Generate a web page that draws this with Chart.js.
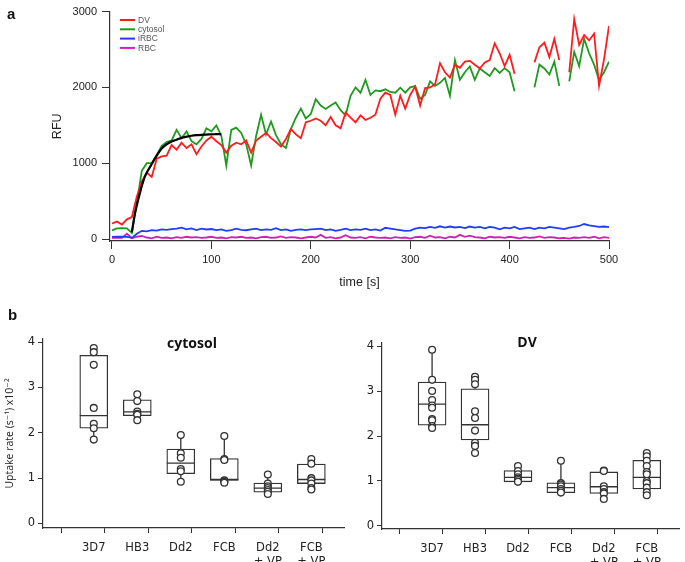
<!DOCTYPE html>
<html>
<head>
<meta charset="UTF-8">
<title>Uptake kinetics</title>
<style>
    body { margin: 0; background: #fff; }
    #wrap { position: relative; width: 685px; height: 562px; overflow: hidden; }
    canvas { position: absolute; }
    .lbl { position: absolute; color: #111; white-space: nowrap; }
    .letter { font-family: "Liberation Sans", Arial, sans-serif; font-weight: bold; font-size: 15px; }
    .ttl { font-family: "Open Sans", sans-serif; font-weight: 700; font-size: 14px; transform: translate(-50%, -50%); }
</style>
<script src="https://cdn.jsdelivr.net/npm/chart.js@4.4.1/dist/chart.umd.min.js"></script>
</head>
<body>
<div id="wrap">
    <canvas id="rfu" style="left:0;top:0" width="640" height="300"></canvas>
    <canvas id="cyt" style="left:0;top:300px" width="350" height="262"></canvas>
    <canvas id="dvbox" style="left:335px;top:300px" width="350" height="262"></canvas>
    <div class="lbl letter" style="left:7px;top:5px">a</div>
    <div class="lbl letter" style="left:8px;top:306px">b</div>
    <div class="lbl ttl" style="left:192px;top:342px">cytosol</div>
    <div class="lbl ttl" style="left:527px;top:341px">DV</div>
</div>
<script>
// ---- panel a : fluorescence traces (RFU vs time) ----
var times = [0, 5, 10, 15, 20, 25, 30, 35, 40, 45, 50, 55, 60, 65, 70, 75, 80, 85, 90, 95,
    100, 105, 110, 115, 120, 125, 130, 135, 140, 145, 150, 155, 160, 165, 170, 175, 180, 185, 190, 195,
    200, 205, 210, 215, 220, 225, 230, 235, 240, 245, 250, 255, 260, 265, 270, 275, 280, 285, 290, 295,
    300, 305, 310, 315, 320, 325, 330, 335, 340, 345, 350, 355, 360, 365, 370, 375, 380, 385, 390, 395,
    400, 405, 410, 415, 420, 425, 430, 435, 440, 445, 450, 455, 460, 465, 470, 475, 480, 485, 490, 495, 500];

var dvTrace = [205, 230, 190, 260, 290, 560, 760, 875, 820, 1060, 1090, 1100, 1240, 1180, 1270, 1200, 1250, 1120, 1220, 1300,
    1350, 1290, 1240, 1140, 1230, 1270, 1250, 1300, 1140, 1300, 1350, 1400, 1330, 1280, 1220, 1320, 1450, 1380, 1330, 1540,
    1560, 1590, 1560, 1500, 1610, 1500, 1460, 1670, 1600, 1540, 1630, 1570, 1600, 1640, 1850, 1930, 1900, 1640, 1890, 1720,
    1900, 2010, 1760, 1990, 2000, 2040, 2320, 2200, 2130, 2300, 2260, 2340, 2350, 2300, 2250, 2330, 2360, 2580, 2450, 2280,
    2430, 2180, null, null, null, 2330, 2530, 2590, 2400, 2640, 2360, null, 2200, 2900, 2560, 2690, 2620, 2710, 2020, 2370, 2810];

var cytTrace = [115, 140, 145, 140, 80, 480, 900, 1000, 1000, 1110, 1230, 1280, 1300, 1440, 1330, 1420, 1290, 1250, 1320, 1460,
    1420, 1500, 1360, 970, 1440, 1470, 1400, 1250, 970, 1360, 1640, 1380, 1550, 1370, 1250, 1200, 1450, 1600, 1720, 1590,
    1650, 1845, 1760, 1716, 1760, 1800, 1700, 1630, 1890, 2000, 1930, 2100, 1900, 1960, 1950, 1975, 1940, 1930, 1996, 1930,
    2000, 2017, 1850, 1900, 2080, 2020, 2060, 2125, 1890, 2360, 2100, 2200, 2276, 2100, 2250, 2200, 2150, 2254, 2190, 2254,
    2200, 1950, null, null, null, 2000, 2300, 2250, 2170, 2340, 2020, null, 2080, 2470, 2280, 2640, 2450, 2300, 2100, 2200, 2340];

var irbcTrace = [28, 30, 32, 28, 15, 70, 108, 100, 118, 112, 128, 122, 130, 138, 150, 128, 140, 118, 138, 126,
    132, 118, 128, 108, 118, 136, 122, 116, 128, 138, 118, 128, 122, 142, 118, 128, 108, 122, 128, 118,
    126, 132, 138, 118, 128, 108, 122, 138, 118, 128, 122, 138, 118, 128, 112, 148, 138, 128, 118, 108,
    112, 138, 150, 145, 160, 148, 168, 150, 165, 152, 160, 145, 165, 150, 160, 140, 160, 150, 128, 150,
    140, 160, 130, 140, 150, 130, 150, 140, 160, 150, 140, 130, 150, 160, 172, 198, 180, 170, 160, 165, 158];

var rbcTrace = [15, 20, 15, 70, 10, 30, 40, 20, 10, 30, 15, 20, 10, 25, 15, 30, 20, 25, 15, 20,
    30, 15, 20, 10, 25, 20, 30, 15, 20, 10, 25, 30, 15, 20, 35, 15, 25, 20, 10, 20,
    30, 20, 55, 15, 25, 10, 20, 50, 20, 15, 25, 10, 30, 20, 15, 20, 10, 25, 15, 20,
    5, 25, 30, 15, 45, 20, 25, 10, 30, 20, 55, 30, 45, 25, 20, 10, 30, 20, 25, 15,
    30, 20, 10, 25, 15, 20, 35, 15, 25, 20, 10, 15, 5, 20, 15, 25, 15, 30, 10, 25, 15];

// single-exponential fit drawn over the first 110 s
var fitTimes = [20, 23, 26, 28, 30, 33, 36, 40, 45, 50, 55, 60, 65, 70, 75, 80, 85, 90, 95, 100, 105, 110];
var fitValues = [90, 330, 500, 600, 700, 820, 900, 990, 1100, 1195, 1250, 1285, 1310, 1335, 1350, 1362, 1370, 1375, 1378, 1381, 1383, 1385];

var traceNames = ['DV', 'cytosol', 'iRBC', 'RBC'];
var traceColors = ['#ff1c1c', '#1e9a1e', '#1f3dff', '#d21fb4'];
var rfuTicks = [0, 1000, 2000, 3000];
var timeTicks = [0, 100, 200, 300, 400, 500];

// ---- panel b : uptake rates ----
var strains = [['3D7'], ['HB3'], ['Dd2'], ['FCB'], ['Dd2', '+ VP'], ['FCB', '+ VP']];
var rateTicks = [0, 1, 2, 3, 4];

var cytMin = [1.85, 2.28, 0.92, 0.90, 0.63, 0.74];
var cytQ1 = [2.10, 2.38, 1.10, 0.95, 0.69, 0.88];
var cytMed = [2.38, 2.46, 1.33, 0.97, 0.78, 0.97];
var cytQ3 = [3.71, 2.73, 1.64, 1.43, 0.89, 1.31];
var cytMax = [3.87, 2.85, 1.95, 1.93, 1.08, 1.42];
var cytPoints = [
    [3.87, 3.78, 3.50, 2.55, 2.20, 2.10, 1.85],
    [2.85, 2.70, 2.47, 2.42, 2.40, 2.28],
    [1.95, 1.55, 1.45, 1.20, 1.15, 0.92],
    [1.93, 1.42, 1.40, 0.95, 0.92, 0.90],
    [1.08, 0.88, 0.82, 0.78, 0.74, 0.70, 0.65],
    [1.42, 1.32, 1.00, 0.95, 0.88, 0.78, 0.75]
];

var dvMin = [2.18, 1.60, 0.96, 0.72, 0.58, 0.66];
var dvQ1 = [2.24, 1.91, 0.98, 0.74, 0.72, 0.82];
var dvMed = [2.71, 2.25, 1.08, 0.85, 0.87, 1.08];
var dvQ3 = [3.20, 3.05, 1.23, 0.96, 1.20, 1.46];
var dvMax = [3.92, 3.32, 1.33, 1.45, 1.23, 1.63];
var dvPoints = [
    [3.92, 3.25, 3.00, 2.80, 2.68, 2.63, 2.38, 2.35, 2.22, 2.18],
    [3.32, 3.25, 3.15, 2.55, 2.40, 2.12, 1.85, 1.78, 1.62],
    [1.33, 1.22, 1.15, 1.08, 1.05, 1.02, 0.98],
    [1.45, 0.95, 0.92, 0.88, 0.82, 0.78, 0.74],
    [1.23, 1.22, 0.88, 0.82, 0.75, 0.72, 0.60],
    [1.62, 1.55, 1.45, 1.33, 1.20, 1.15, 1.00, 0.95, 0.85, 0.75, 0.68]
];

var AXIS = '#333';
var TICKFONT_A = { family: '"Liberation Sans", Arial, sans-serif', size: 11 };
var TICKFONT_B = { family: '"DejaVu Sans", Verdana, sans-serif', size: 11.5 };

function pairs(xs, ys) {
    return xs.map(function (x, i) { return { x: x, y: ys[i] }; });
}

// small legend in the top left corner of the plot
var insideLegend = {
    id: 'insideLegend',
    afterDraw: function (chart) {
        var ctx = chart.ctx;
        ctx.save();
        ctx.font = '8.5px "Liberation Sans", Arial, sans-serif';
        ctx.textBaseline = 'middle';
        ctx.lineWidth = 2;
        traceNames.forEach(function (name, i) {
            var y = 20 + i * 9.3;
            ctx.strokeStyle = traceColors[i];
            ctx.beginPath();
            ctx.moveTo(120, y);
            ctx.lineTo(135, y);
            ctx.stroke();
            ctx.fillStyle = '#555';
            ctx.fillText(name, 138, y + 0.5);
        });
        ctx.restore();
    }
};

function lineSet(label, values, color) {
    return {
        label: label,
        data: pairs(times, values),
        borderColor: color,
        borderWidth: 1.8,
        pointRadius: 0,
        tension: 0,
        spanGaps: false
    };
}

new Chart(document.getElementById('rfu'), {
    type: 'line',
    data: {
        datasets: [
            {
                label: 'fit',
                data: pairs(fitTimes, fitValues),
                borderColor: '#000',
                borderWidth: 2.2,
                pointRadius: 0,
                tension: 0.3
            },
            lineSet(traceNames[0], dvTrace, traceColors[0]),
            lineSet(traceNames[1], cytTrace, traceColors[1]),
            lineSet(traceNames[2], irbcTrace, traceColors[2]),
            lineSet(traceNames[3], rbcTrace, traceColors[3])
        ]
    },
    options: {
        responsive: false,
        animation: false,
        layout: { padding: { top: 8, right: 31, left: 0, bottom: 0 } },
        plugins: { legend: { display: false }, tooltip: { enabled: false } },
        scales: {
            x: {
                type: 'linear',
                min: -2,
                max: 500,
                afterBuildTicks: function (axis) {
                    axis.ticks = timeTicks.map(function (v) { return { value: v }; });
                },
                afterFit: function (axis) { axis.height = 59; },
                grid: { drawOnChartArea: false, color: AXIS, tickLength: 8 },
                border: { display: true, color: AXIS, width: 1.2 },
                ticks: { font: TICKFONT_A, color: '#222', padding: 4, maxRotation: 0,
                    callback: function (v) { return String(v); } },
                title: { display: true, text: 'time [s]', color: '#222',
                    font: { family: '"Liberation Sans", Arial, sans-serif', size: 12.5 },
                    padding: { top: 0, bottom: 10 } }
            },
            y: {
                min: -26,
                max: 3000,
                afterBuildTicks: function (axis) {
                    axis.ticks = rfuTicks.map(function (v) { return { value: v }; });
                },
                afterFit: function (axis) { axis.width = 110; },
                grid: { drawOnChartArea: false, color: AXIS, tickLength: 8 },
                border: { display: true, color: AXIS, width: 1.2 },
                ticks: { font: TICKFONT_A, color: '#222', padding: 5,
                    callback: function (v) { return String(v); } },
                title: { display: true, text: 'RFU', color: '#222',
                    font: { family: '"Liberation Sans", Arial, sans-serif', size: 12.5 },
                    padding: { top: 50, bottom: 0 } }
            }
        }
    },
    plugins: [insideLegend]
});

// whiskers and median lines on top of the floating-bar boxes
var boxExtras = {
    id: 'boxExtras',
    afterDatasetDraw: function (chart, args) {
        if (args.meta.type !== 'bar') return;
        var ds = chart.data.datasets[args.index];
        var y = chart.scales.y;
        var ctx = chart.ctx;
        ctx.save();
        ctx.strokeStyle = AXIS;
        ctx.lineWidth = 1.3;
        args.meta.data.forEach(function (bar, i) {
            var half = bar.width / 2;
            var ym = y.getPixelForValue(ds.medians[i]);
            ctx.beginPath();
            ctx.moveTo(bar.x - half, ym);
            ctx.lineTo(bar.x + half, ym);
            ctx.moveTo(bar.x, y.getPixelForValue(ds.upper[i]));
            ctx.lineTo(bar.x, y.getPixelForValue(ds.maxs[i]));
            ctx.moveTo(bar.x, y.getPixelForValue(ds.lower[i]));
            ctx.lineTo(bar.x, y.getPixelForValue(ds.mins[i]));
            ctx.stroke();
        });
        ctx.restore();
    }
};

function boxChart(id, mins, q1, med, q3, maxs, points, o) {
    var boxData = q1.map(function (v, i) { return { x: i, y: [v, q3[i]] }; });
    var dots = [];
    points.forEach(function (arr, i) {
        arr.forEach(function (v) { dots.push({ x: i, y: v }); });
    });
    var xTicks = [-0.5, 0, 0.5, 1, 1.5, 2, 2.5, 3, 3.5, 4, 4.5, 5, 5.5];
    return new Chart(document.getElementById(id), {
        type: 'bar',
        data: {
            datasets: [
                {
                    type: 'scatter',
                    data: dots,
                    order: 0,
                    pointRadius: 3.4,
                    pointBackgroundColor: '#fff',
                    pointBorderColor: AXIS,
                    pointBorderWidth: 1.3
                },
                {
                    type: 'bar',
                    data: boxData,
                    order: 1,
                    medians: med, lower: q1, upper: q3, mins: mins, maxs: maxs,
                    backgroundColor: '#fff',
                    borderColor: AXIS,
                    borderWidth: 1.3,
                    borderSkipped: false,
                    barThickness: 28
                }
            ]
        },
        options: {
            responsive: false,
            animation: false,
            layout: { padding: { top: o.top, right: o.right, left: 0, bottom: 0 } },
            plugins: { legend: { display: false }, tooltip: { enabled: false } },
            scales: {
                x: {
                    type: 'linear',
                    min: -0.9,
                    max: 5.5,
                    afterBuildTicks: function (axis) {
                        axis.ticks = xTicks.map(function (v) { return { value: v }; });
                    },
                    afterFit: function (axis) { axis.height = o.xHeight; },
                    grid: {
                        drawOnChartArea: false,
                        tickLength: 5,
                        color: function (c) {
                            return (c.tick && c.tick.value % 1 !== 0) ? AXIS : 'rgba(0,0,0,0)';
                        }
                    },
                    border: { display: true, color: AXIS, width: 1.2 },
                    ticks: {
                        font: TICKFONT_B, color: '#222', padding: 8, autoSkip: false,
                        maxRotation: 0, minRotation: 0,
                        callback: function (v) { return v % 1 === 0 ? strains[v] : ''; }
                    }
                },
                y: {
                    min: o.yMin,
                    max: 4.07,
                    afterBuildTicks: function (axis) {
                        axis.ticks = rateTicks.map(function (v) { return { value: v }; });
                    },
                    afterFit: function (axis) { axis.width = o.yWidth; },
                    grid: { drawOnChartArea: false, color: AXIS, tickLength: 5 },
                    border: { display: true, color: AXIS, width: 1.2 },
                    ticks: { font: TICKFONT_B, color: '#222', padding: 3 },
                    title: {
                        display: !!o.yTitle,
                        text: o.yTitle || '',
                        color: '#222',
                        font: { family: '"Open Sans", "DejaVu Sans", sans-serif', size: 10.5 },
                        padding: { top: 4, bottom: 0 }
                    }
                }
            }
        },
        plugins: [boxExtras]
    });
}

boxChart('cyt', cytMin, cytQ1, cytMed, cytQ3, cytMax, cytPoints,
    { top: 39, right: 3, xHeight: 34, yMin: -0.1, yWidth: 43, yTitle: 'Uptake rate (s\u207B\u00B9) x10\u207B\u00B2' });
boxChart('dvbox', dvMin, dvQ1, dvMed, dvQ3, dvMax, dvPoints,
    { top: 43, right: 2, xHeight: 33, yMin: -0.07, yWidth: 47, yTitle: '' });
</script>
</body>
</html>
